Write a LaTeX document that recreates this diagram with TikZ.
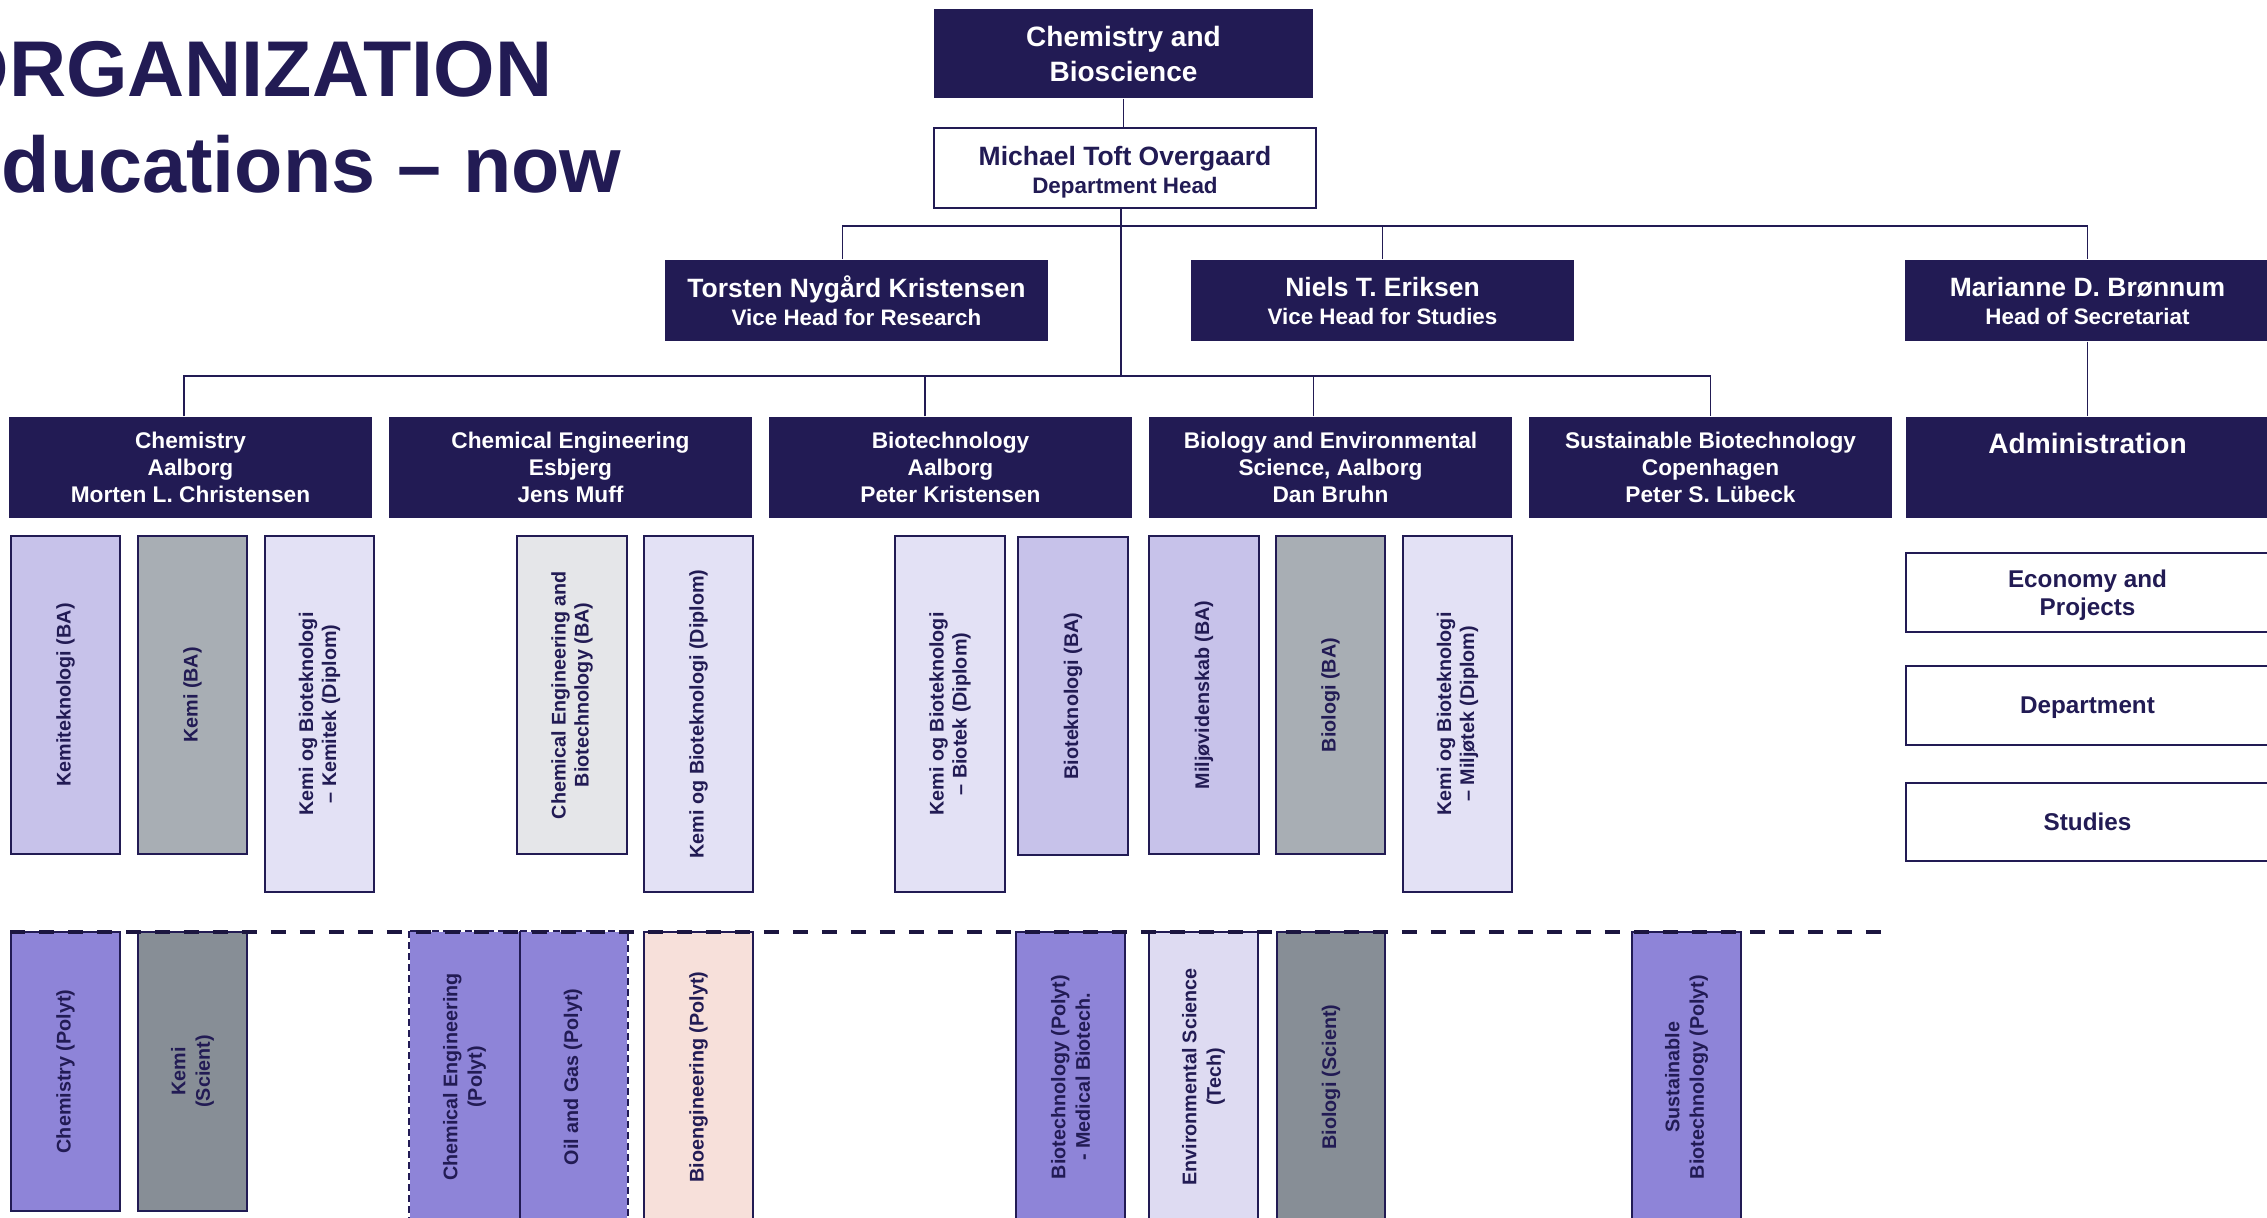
\documentclass[tikz,border=0pt]{standalone}
\usepackage{fontspec}
\setmainfont{Liberation Sans}
\usetikzlibrary{fit}
\definecolor{navy}{RGB}{34,27,84}
\definecolor{lav}{RGB}{199,194,234}
\definecolor{grayA}{RGB}{168,174,180}
\definecolor{palelav}{RGB}{227,225,245}
\definecolor{palegray}{RGB}{229,230,233}
\definecolor{purp}{RGB}{142,132,216}
\definecolor{grayB}{RGB}{135,142,150}
\definecolor{peach}{RGB}{247,224,218}
\definecolor{envlav}{RGB}{222,219,242}
\definecolor{dashc}{RGB}{28,22,64}
\begin{document}
\begin{tikzpicture}[x=0.1mm,y=-0.1mm,
  hdr/.style={fill=navy,draw=none,inner sep=0pt},
  wbox/.style={fill=white,draw=navy,line width=0.55pt,inner sep=0pt},
  hdrt/.style={text=white,inner sep=0pt,align=center,text depth=0pt,font=\bfseries},
  namet/.style={hdrt,font=\bfseries\fontsize{6.37}{7.95}\selectfont},
  wboxt/.style={text=navy,inner sep=0pt,align=center,text depth=0pt,font=\bfseries\fontsize{6.9}{7.9}\selectfont},
  prog/.style={draw=navy,line width=0.5pt,inner sep=0pt},
  plab/.style={rotate=90,text=navy,align=center,inner sep=0pt,font=\bfseries\fontsize{5.62}{6.55}\selectfont},
  plabl/.style={rotate=90,text=navy,align=center,inner sep=0pt,font=\bfseries\fontsize{5.62}{6.97}\selectfont},
  conn/.style={draw=navy,line width=0.4pt},
  deptxt/.style={hdrt,font=\bfseries\fontsize{6.45}{7.74}\selectfont},
  titletxt/.style={anchor=base east,text=navy,inner sep=0pt,font=\bfseries\fontsize{22.5}{27}\selectfont},
]
\useasboundingbox (0,0) rectangle (2267,1218);
\clip (0,0) rectangle (2267,1218);

% title
\node[titletxt] (t1) at (553,97) {ORGANIZATION};
\node[titletxt] (t2) at (622,193) {ducations – now};

% top levels
\node[hdr,fit={(934,9) (1313,98)}] (cb) {};
\node[hdrt,font=\bfseries\fontsize{7.97}{9.96}\selectfont] (cbt) at (cb) {Chemistry and\\Bioscience};
\node[wbox,fit={(934,128) (1316,208)}] (mh) {};
\node[namet,text=navy,yshift=-0.2mm,font=\bfseries\fontsize{6.37}{7.77}\selectfont] (mht) at (mh) {{\fontsize{7.54}{7.77}\selectfont Michael Toft Overgaard}\\Department Head};

\node[hdr,fit={(665,260) (1048,341)}] (vr) {};
\node[namet] (vrt) at (vr) {{\fontsize{7.54}{7.95}\selectfont Torsten Nygård Kristensen}\\Vice Head for Research};
\node[hdr,fit={(1191,260) (1574,341)}] (vs) {};
\node[namet] (vst) at (vs) {{\fontsize{7.54}{7.95}\selectfont Niels T. Eriksen}\\Vice Head for Studies};
\node[hdr,fit={(1905,260) (2270,341)}] (ms) {};
\node[namet] (mst) at (ms) {{\fontsize{7.54}{7.95}\selectfont Marianne D. Brønnum}\\Head of Secretariat};

% departments
\node[hdr,fit={(9,417) (372,518)}] (chem) {};
\node[deptxt] (chemt) at (chem) {Chemistry\\Aalborg\\Morten L. Christensen};
\node[hdr,fit={(389,417) (752,518)}] (cheng) {};
\node[deptxt] (chengt) at (cheng) {Chemical Engineering\\Esbjerg\\Jens Muff};
\node[hdr,fit={(769,417) (1132,518)}] (biot) {};
\node[deptxt] (biott) at (biot) {Biotechnology\\Aalborg\\Peter Kristensen};
\node[hdr,fit={(1149,417) (1512,518)}] (biol) {};
\node[deptxt] (biolt) at (biol) {Biology and Environmental\\Science, Aalborg\\Dan Bruhn};
\node[hdr,fit={(1529,417) (1892,518)}] (sust) {};
\node[deptxt] (sustt) at (sust) {Sustainable Biotechnology\\Copenhagen\\Peter S. Lübeck};
\node[hdr,fit={(1906,417) (2269,518)}] (adm) {};
\node[anchor=base,text=white,inner sep=0pt,font=\bfseries\fontsize{8}{9}\selectfont] (admt) at (2087.5,454) {Administration};

% administration units
\node[wbox,fit={(1906,553) (2269,632)}] (eco) {};
\node[wboxt] (ecot) at (eco) {Economy and\\Projects};
\node[wbox,fit={(1906,666) (2269,745)}] (dep) {};
\node[wboxt] (dept) at (dep) {Department};
\node[wbox,fit={(1906,783) (2269,861)}] (stu) {};
\node[wboxt] (stut) at (stu) {Studies};

% connectors
\coordinate (bus1) at (0,226);
\coordinate (bus2) at (0,376);
\draw[conn] (cb.south) -- (cb.south |- mh.north);
\draw[conn] ([xshift=-0.4mm]mh.south) -- ([xshift=-0.4mm]mh.south |- bus2);
\draw[conn] ([xshift=-1.4mm]vr.north) |- (bus1 -| ms.north) -- (ms.north);
\draw[conn] (vs.north) -- (vs.north |- bus1);
\draw[conn] (ms.south) -- (adm.north);
\draw[conn] ([xshift=-0.65mm]chem.north) |- (bus2 -| sust.north) -- (sust.north);
\draw[conn] ([xshift=-2.55mm]biot.north) -- ([xshift=-2.55mm]biot.north |- bus2);
\draw[conn] ([xshift=-1.7mm]biol.north) -- ([xshift=-1.7mm]biol.north |- bus2);

% upper programmes
\node[prog,fill=lav,fit={(11,536) (120,854)}] (u1) {};
\node[plab] (u1t) at (u1) {Kemiteknologi (BA)};
\node[prog,fill=grayA,fit={(138,536) (247,854)}] (u2) {};
\node[plab] (u2t) at (u2) {Kemi (BA)};
\node[prog,fill=palelav,fit={(265,536) (374,892)}] (u3) {};
\node[plab] (u3t) at (u3) {Kemi og Bioteknologi\\– Kemitek (Diplom)};
\node[prog,fill=palegray,fit={(517,536) (627,854)}] (u4) {};
\node[plab] (u4t) at (u4) {Chemical Engineering and\\Biotechnology (BA)};
\node[prog,fill=palelav,fit={(644,536) (753,892)}] (u5) {};
\node[plab] (u5t) at (u5) {Kemi og Bioteknologi (Diplom)};
\node[prog,fill=palelav,fit={(895,536) (1005,892)}] (u6) {};
\node[plab] (u6t) at (u6) {Kemi og Bioteknologi\\– Biotek (Diplom)};
\node[prog,fill=lav,fit={(1018,537) (1128,855)}] (u7) {};
\node[plab] (u7t) at (u7) {Bioteknologi (BA)};
\node[prog,fill=lav,fit={(1149,536) (1259,854)}] (u8) {};
\node[plab] (u8t) at (u8) {Miljøvidenskab (BA)};
\node[prog,fill=grayA,fit={(1276,536) (1385,854)}] (u9) {};
\node[plab] (u9t) at (u9) {Biologi (BA)};
\node[prog,fill=palelav,fit={(1403,536) (1512,892)}] (u10) {};
\node[plab] (u10t) at (u10) {Kemi og Bioteknologi\\– Miljøtek (Diplom)};

% lower programmes
\node[prog,fill=purp,fit={(11,932) (120,1211)}] (l1) {};
\node[plabl] (l1t) at (l1) {Chemistry (Polyt)};
\node[prog,fill=grayB,fit={(138,932) (247,1211)}] (l2) {};
\node[plabl] (l2t) at (l2) {Kemi\\(Scient)};
\node[fill=purp,inner sep=0pt,fit={(410,932) (519,1222)}] (l3) {};
\node[plabl] (l3t) at (l3) {Chemical Engineering\\(Polyt)};
\node[fill=purp,inner sep=0pt,fit={(519,932) (627,1222)}] (l4) {};
\node[plabl] (l4t) at (l4) {Oil and Gas (Polyt)};
\draw[navy,line width=0.5pt,dash pattern=on 0.7mm off 0.4mm] (l3.north west) rectangle (l4.south east);
\draw[navy,line width=0.5pt] (l3.north east) -- (l3.south east);
\node[prog,fill=peach,fit={(644,932) (753,1222)}] (l5) {};
\node[plabl] (l5t) at (l5) {Bioengineering (Polyt)};
\node[prog,fill=purp,fit={(1016,932) (1125,1222)}] (l6) {};
\node[plabl] (l6t) at (l6) {Biotechnology (Polyt)\\- Medical Biotech.};
\node[prog,fill=envlav,fit={(1149,932) (1258,1222)}] (l7) {};
\node[plabl] (l7t) at (l7) {Environmental Science\\(Tech)};
\node[prog,fill=grayB,fit={(1277,932) (1385,1222)}] (l8) {};
\node[plabl] (l8t) at (l8) {Biologi (Scient)};
\node[prog,fill=purp,fit={(1632,932) (1741,1222)}] (l9) {};
\node[plabl] (l9t) at (l9) {Sustainable\\Biotechnology (Polyt)};

% dashed separator
\coordinate (dl) at (10,932);
\coordinate (dr) at (1890,932);
\draw[dashc,line width=1.05pt,dash pattern=on 1.5mm off 1.4mm] (dl) -- (dr);
\end{tikzpicture}
\end{document}
